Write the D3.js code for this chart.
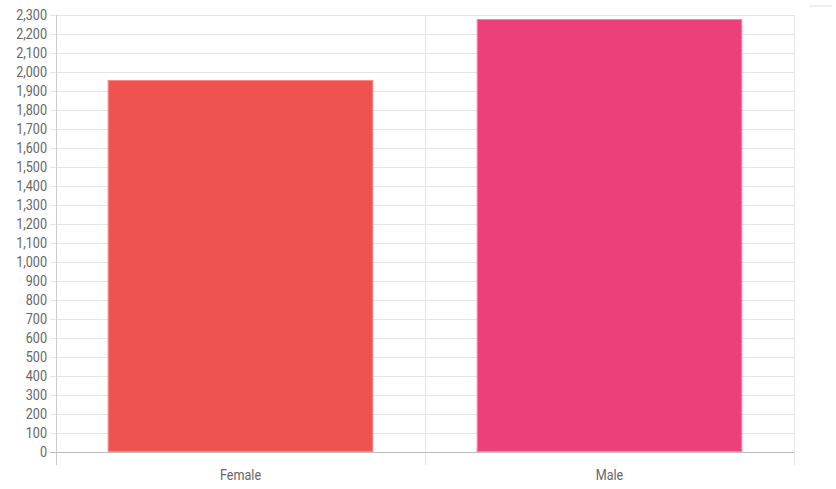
<!DOCTYPE html>
<html lang="en">
<head>
  <meta charset="UTF-8">
  <title>Gender</title>
  <script src="https://d3js.org/d3.v7.min.js"></script>
  <style>
    body { margin: 0; background: #fff; }
    text { font-family: "Roboto", sans-serif; font-size: 15px; fill: #666; }
    .grid line { stroke: #e5e5e5; }
  </style>
</head>
<body>
  <div id="chart"></div>
  <script>
    const width = 836, height = 489;
    const margin = { top: 15, right: 42, bottom: 37, left: 56 };
    const squeeze = 0.84; // reference font is a condensed face

    const categories = ["Female", "Male"];
    const values = [1958, 2279];
    const colors = ["#ef5350", "#ec407a"];
    const borders = ["#f48a88", "#f28aac"];
    const yTicks = d3.range(0, 2301, 100);

    const svg = d3.select("#chart").append("svg")
      .attr("width", width)
      .attr("height", height);

    const x = d3.scaleBand()
      .domain(categories)
      .range([margin.left, width - margin.right])
      .paddingInner(0.28)
      .paddingOuter(0.14);

    const xCat = d3.scaleBand()
      .domain(categories)
      .range([margin.left, width - margin.right]);

    const y = d3.scaleLinear()
      .domain([0, 2300])
      .range([height - margin.bottom, margin.top]);

    // horizontal gridlines
    svg.append("g").attr("class", "grid")
      .selectAll("line")
      .data(yTicks)
      .join("line")
      .attr("x1", margin.left - 6)
      .attr("x2", width - margin.right)
      .attr("y1", d => Math.round(y(d)) + 0.5)
      .attr("y2", d => Math.round(y(d)) + 0.5);

    // vertical gridlines at category boundaries
    const xBounds = categories.map(c => xCat(c)).concat([width - margin.right]);
    svg.append("g").attr("class", "grid")
      .selectAll("line")
      .data(xBounds)
      .join("line")
      .attr("x1", d => Math.round(d) + 0.5)
      .attr("x2", d => Math.round(d) + 0.5)
      .attr("y1", margin.top)
      .attr("y2", height - margin.bottom + 13);

    // bars
    svg.append("g")
      .selectAll("rect")
      .data(categories)
      .join("rect")
      .attr("x", d => x(d) + 0.5)
      .attr("y", (d, i) => y(values[i]) + 0.5)
      .attr("width", x.bandwidth() - 1)
      .attr("height", (d, i) => y(0) - y(values[i]) - 1)
      .attr("fill", (d, i) => colors[i])
      .attr("stroke", (d, i) => borders[i])
      .attr("stroke-width", 1);

    // axis lines
    svg.append("line")
      .attr("x1", margin.left + 0.5).attr("x2", margin.left + 0.5)
      .attr("y1", margin.top).attr("y2", height - margin.bottom + 13)
      .attr("stroke", "#ccc");
    svg.append("line")
      .attr("x1", margin.left - 6).attr("x2", width - margin.right)
      .attr("y1", Math.round(y(0)) + 0.5).attr("y2", Math.round(y(0)) + 0.5)
      .attr("stroke", "#bbb");

    // y labels
    svg.append("g")
      .selectAll("text")
      .data(yTicks)
      .join("text")
      .attr("transform", d => `translate(${margin.left - 9},${y(d)}) scale(${squeeze},1)`)
      .attr("dy", "0.35em")
      .attr("text-anchor", "end")
      .text(d => d3.format(",")(d));

    // x labels
    svg.append("g")
      .selectAll("text")
      .data(categories)
      .join("text")
      .attr("transform", d => `translate(${xCat(d) + xCat.bandwidth() / 2},${height - margin.bottom + 28}) scale(${squeeze},1)`)
      .attr("text-anchor", "middle")
      .text(d => d);

    // faint mark top right
    svg.append("rect")
      .attr("x", 809).attr("y", 5).attr("width", 23).attr("height", 2)
      .attr("fill", "#eee");
  </script>
</body>
</html>
